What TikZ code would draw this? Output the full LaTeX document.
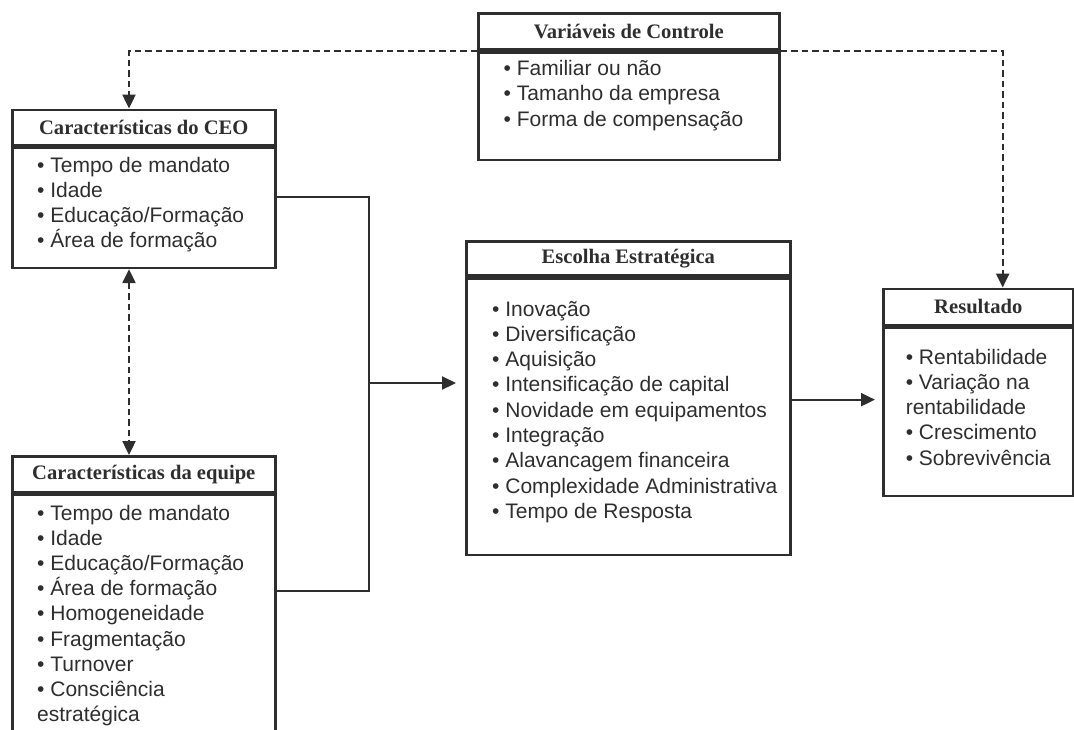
\documentclass[tikz,border=0pt]{standalone}
\usepackage{fontspec}
\setmainfont{Liberation Serif}
\setsansfont{Liberation Sans}
\usetikzlibrary{arrows.meta}
\definecolor{ink}{HTML}{2E2E2E}
\newcommand\headfont{\rmfamily\bfseries\fontsize{20.6}{24}\selectfont}
\newcommand\itemfont{\sffamily\fontsize{21}{25}\selectfont}
\tikzset{
  boxframe/.style={draw=ink, line width=2.6pt, anchor=north west, inner sep=0pt},
  boxhead/.style={boxframe, font=\headfont, text=ink},
  listitem/.style={anchor=base west, inner sep=0pt, font=\itemfont, text=ink},
  solidlink/.style={draw=ink, line width=2.2pt},
  dashlink/.style={solidlink, line width=2.4pt, dash pattern=on 6.5pt off 4pt},
  tip/.style={-{Triangle[width=13pt,length=14pt]}},
  twotips/.style={{Triangle[width=13pt,length=14pt]}-{Triangle[width=13pt,length=14pt]}}
}
\begin{document}
\begin{tikzpicture}[x=1pt, y=-1pt]
    \useasboundingbox (0,0) rectangle (1074,729);

    \node[boxhead, minimum width=301pt, minimum height=36.3pt] (varhead) at (477,12) {Variáveis de Controle};
    \node[boxframe, minimum width=301pt, minimum height=107.7pt] (varbody) at (varhead.south west) {};
    \foreach \t [count=\i] in {Familiar ou não, Tamanho da empresa, Forma de compensação}
        \node[listitem] (var\i) at (503.5, {75+(\i-1)*25.5}) {\textbullet\ \t};

    \node[boxhead, minimum width=263pt, minimum height=35pt] (ceohead) at (11,108.5) {Características do CEO};
    \node[boxframe, minimum width=263pt, minimum height=120.5pt] (ceobody) at (ceohead.south west) {};
    \foreach \t [count=\i] in {Tempo de mandato, Idade, Educação/Formação, Área de formação}
        \node[listitem] (ceo\i) at (37, {172.7+(\i-1)*25}) {\textbullet\ \t};

    \node[boxhead, minimum width=263pt, minimum height=35.7pt] (teamhead) at (11,455) {Características da equipe};
    \node[boxframe, minimum width=263pt, minimum height=254pt] (teambody) at (teamhead.south west) {};
    \foreach \t [count=\i] in {\textbullet\ Tempo de mandato, \textbullet\ Idade, \textbullet\ Educação/Formação,
        \textbullet\ Área de formação, \textbullet\ Homogeneidade, \textbullet\ Fragmentação,
        \textbullet\ Turnover, \textbullet\ Consciência, estratégica}
        \node[listitem] (team\i) at (37, {520+(\i-1)*25.2}) {\t};

    \node[boxhead, minimum width=324pt, minimum height=34.3pt] (eschead) at (465,240) {Escolha Estratégica};
    \node[boxframe, minimum width=324pt, minimum height=276.7pt] (escbody) at (eschead.south west) {};
    \foreach \t [count=\i] in {Inovação, Diversificação, Aquisição, Intensificação de capital,
        Novidade em equipamentos, Integração, Alavancagem financeira,
        Complexidade Administrativa, Tempo de Resposta}
        \node[listitem] (esc\i) at (492, {316+(\i-1)*25.3}) {\textbullet\ \t};

    \node[boxhead, minimum width=190pt, minimum height=36pt] (reshead) at (882,287.5) {Resultado};
    \node[boxframe, minimum width=190pt, minimum height=168.5pt] (resbody) at (reshead.south west) {};
    \foreach \t [count=\i] in {\textbullet\ Rentabilidade, \textbullet\ Variação na, rentabilidade,
        \textbullet\ Crescimento, \textbullet\ Sobrevivência}
        \node[listitem] (res\i) at (905.6, {364+(\i-1)*25.25}) {\t};

    \coordinate (join) at (369.3,383);
    \draw[solidlink] ([yshift=10.5pt]ceobody.east) -| (join);
    \draw[solidlink] ([yshift=30.9pt]teambody.east) -| (join);
    \draw[solidlink, tip, shorten >=9pt] (join) -- (join -| escbody.west);
    \draw[solidlink, tip, shorten >=7pt] ([yshift=12pt]resbody.west -| escbody.east) -- ([yshift=12pt]resbody.west);

    \draw[dashlink, tip] (varhead.south west) -| ([xshift=118pt]ceohead.north west);
    \draw[dashlink, tip] (varhead.south east) -| ([xshift=120.7pt]reshead.north west);
    \draw[dashlink, twotips] ([xshift=118pt]ceobody.south west) -- ([xshift=118pt]teamhead.north west);
\end{tikzpicture}
\end{document}
